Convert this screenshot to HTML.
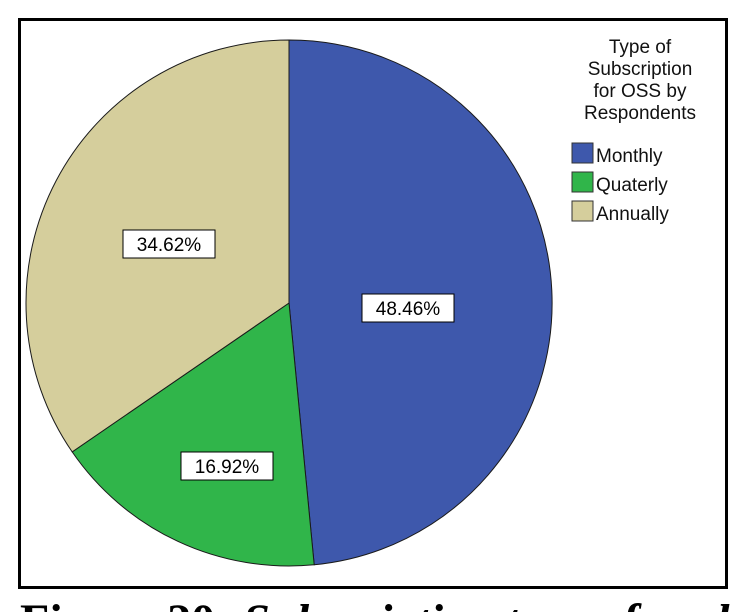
<!DOCTYPE html>
<html style="margin:0;width:741px;height:612px;overflow:hidden"><head><style>
body{margin:0;background:#fff;width:741px;height:612px;overflow:hidden;position:relative;font-family:"Liberation Sans",Arial,sans-serif}
.box{position:absolute;left:18px;top:18px;width:704px;height:565px;border:3px solid #000;}
.capwrap{position:absolute;left:0;top:0;width:741px;height:612px;overflow:hidden}
.cap{position:absolute;left:20px;top:598px;font-family:"Liberation Serif",serif;font-size:48px;font-weight:bold;white-space:nowrap;line-height:1}
</style></head><body>
<div class="box"></div>
<svg width="741" height="612" style="position:absolute;left:0;top:0">
<path d="M289,303 L289,40 A263,263 0 0 1 314.2,564.8 Z" fill="#3e58ac" stroke="#1a1a1a" stroke-width="1"/>
<path d="M289,303 L314.2,564.8 A263,263 0 0 1 72.2,451.9 Z" fill="#30b54a" stroke="#1a1a1a" stroke-width="1"/>
<path d="M289,303 L72.2,451.9 A263,263 0 0 1 289,40 Z" fill="#d5ce9c" stroke="#1a1a1a" stroke-width="1"/>
<g font-family="Liberation Sans, Arial, sans-serif" font-size="19">
<rect x="362" y="294" width="92" height="28" fill="#fff" stroke="#000"/>
<text x="408" y="315" text-anchor="middle">48.46%</text>
<rect x="123" y="230" width="92" height="28" fill="#fff" stroke="#000"/>
<text x="169" y="251" text-anchor="middle">34.62%</text>
<rect x="181" y="452" width="92" height="28" fill="#fff" stroke="#000"/>
<text x="227" y="473" text-anchor="middle">16.92%</text>
</g>
<g font-family="Liberation Sans, Arial, sans-serif" font-size="19" fill="#111">
<text x="640" y="53" text-anchor="middle">Type of</text>
<text x="640" y="75" text-anchor="middle">Subscription</text>
<text x="640" y="97" text-anchor="middle">for OSS by</text>
<text x="640" y="119" text-anchor="middle">Respondents</text>
<rect x="572" y="143" width="21" height="20" fill="#3e58ac" stroke="#333"/>
<text x="596" y="162">Monthly</text>
<rect x="572" y="172" width="21" height="20" fill="#30b54a" stroke="#333"/>
<text x="596" y="191">Quaterly</text>
<rect x="572" y="201" width="21" height="20" fill="#d5ce9c" stroke="#333"/>
<text x="596" y="220">Annually</text>
</g>
</svg>
<div class="capwrap"><div class="cap">Figure 20: <i>Subscription type of each</i></div></div>
</body></html>
